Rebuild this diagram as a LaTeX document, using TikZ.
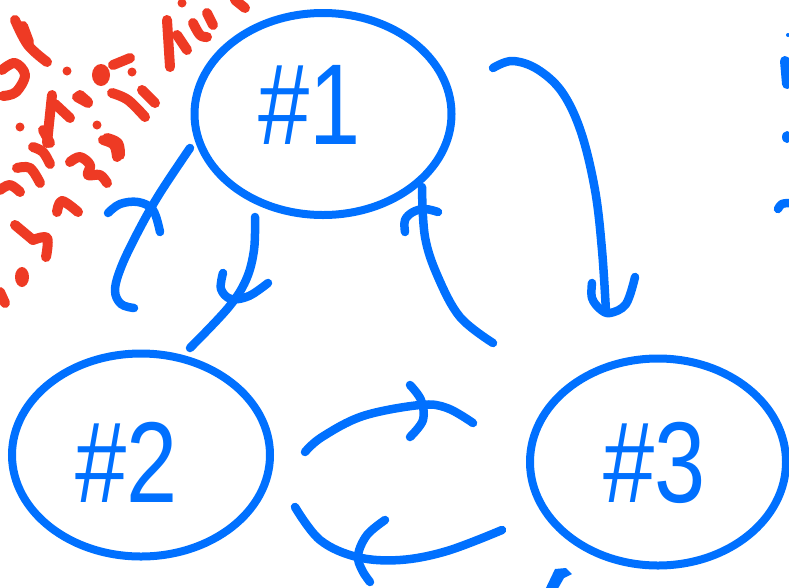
\documentclass[tikz,border=0pt]{standalone}
\usepackage{fontspec}
\setmainfont{Liberation Sans}
\usetikzlibrary{shapes.geometric}
\definecolor{inkblue}{RGB}{0,112,255}
\definecolor{inkred}{RGB}{238,58,36}
\tikzset{
  stroke/.style={draw=inkblue, line width=8.5pt, line cap=round, line join=round},
  redstroke/.style={draw=inkred, line width=10pt, line cap=round, line join=round},
  bubble/.style={draw=inkblue, line width=8pt, ellipse, inner sep=0pt},
  tag/.style={text=inkblue, font=\fontsize{92}{92}\selectfont, inner sep=0pt, yscale=1.25, transform shape},
  hand/.style={smooth, tension=0.6},
}
\begin{document}
\begin{tikzpicture}[x=1pt, y=-1pt]
\useasboundingbox (0,0) rectangle (789,587);

% the three states
\node[bubble, minimum width=257pt, minimum height=202pt] (n1) at (323,114) {};
\node[bubble, minimum width=258pt, minimum height=203pt] (n2) at (141,455) {};
\node[bubble, minimum width=256pt, minimum height=207pt] (n3) at (658,462) {};
\node[tag] (t1) at (310,105) {\#1};
\node[tag] (t2) at (127,462) {\#2};
\node[tag] (t3) at (655,463) {\#3};

% free ends of the hand-drawn arrows
\coordinate (a1s) at (190,148);
\coordinate (a2s) at (255,217);
\coordinate (a2e) at (190,348);
\coordinate (a3s) at (493,68);
\coordinate (a3e) at (606,312);
\coordinate (a4s) at (493,343);
\coordinate (a4e) at (422,187);
\coordinate (a5s) at (305,452);
\coordinate (a5e) at (473,423);
\coordinate (a6s) at (502,530);
\coordinate (a6e) at (295,507);

% #2 -> #1 (left)
\draw[stroke] plot[hand] coordinates {(a1s) (160,193) (140,228) (122,265) (115,290) (121,304) (134,308)};
\draw[stroke] plot[hand] coordinates {(108,213) (120,204) (138,202) (153,210) (160,232)};

% #1 -> #2
\draw[stroke] plot[hand] coordinates {(a2s) (254,250) (246,280) (228,308) (a2e)};
\draw[stroke] plot[hand] coordinates {(223,273) (221,289) (231,299) (249,296) (268,283)};

% #1 -> #3
\draw[stroke] plot[hand] coordinates {(a3s) (512,61) (537,69) (562,92) (581,132) (595,190) (602,250) (a3e)};
\draw[stroke] plot[hand] coordinates {(592,283) (592,298) (600,309) (610,313) (626,304) (635,277)};

% #3 -> #1
\draw[stroke] plot[hand] coordinates {(a4s) (460,317) (438,277) (425,237) (a4e)};
\draw[stroke] plot[hand] coordinates {(405,232) (405,220) (413,212) (425,209) (438,212)};

% #2 -> #3 (upper)
\draw[stroke] plot[hand] coordinates {(a5s) (322,437) (363,416) (420,405) (447,408) (a5e)};
\draw[stroke] plot[hand] coordinates {(410,385) (421,400) (423,420) (410,437)};

% #3 -> #2 (lower)
\draw[stroke] plot[hand] coordinates {(a6s) (447,551) (400,560) (357,557) (320,540) (a6e)};
\draw[stroke] plot[hand] coordinates {(385,520) (367,535) (358,555) (362,570) (370,582)};

% partly visible tip at the bottom
\fill[inkblue] (544,592) -- (555,569) -- (566,568) -- (572,574) -- (564,578) -- (556,592) -- cycle;

% marks on the right edge
\fill[inkblue] (788,35) circle (2pt);
\draw[stroke, line width=10pt] (785,61) -- (787,84);
\fill[inkblue] (787,137) ellipse (5pt and 6pt);
\draw[stroke] plot[hand] coordinates {(778,209) (782,204) (790,203)};

% red handwriting in the top-left corner
\draw[redstroke] plot[hand] coordinates {(15,20) (28,45) (47,62)};
\draw[redstroke] (23,26) -- (29,42);
\draw[redstroke] plot[hand] coordinates {(2,70) (15,63) (25,75) (16,92) (3,96)};
\fill[inkred] (67,71) circle (4.5pt);
\draw[redstroke] (52,95) -- (47,143);
\draw[redstroke] (55,104) -- (70,118);
\draw[redstroke] (77,97) -- (88,103);
\fill[inkred] (20,127) circle (4.5pt);
\draw[redstroke] (43,130) -- (50,143);
\draw[redstroke] plot[hand] coordinates {(33,147) (43,152) (50,164)};
\draw[redstroke] plot[hand] coordinates {(17,168) (30,168) (40,183)};
\draw[redstroke] plot[hand] coordinates {(0,190) (10,185) (20,192)};
\draw[redstroke] plot[hand] coordinates {(70,162) (80,157) (90,165) (88,175) (100,175) (107,183)};
\draw[redstroke] plot[hand] coordinates {(103,140) (114,145) (117,157)};
\draw[redstroke] plot[hand] coordinates {(57,212) (62,201) (78,212)};
\draw[redstroke] (15,225) -- (33,240);
\draw[redstroke] plot[hand] coordinates {(33,240) (47,238) (46,257)};
\fill[inkred] (22,277) ellipse (7pt and 10pt);
\draw[redstroke] (0,292) -- (5,303);
\fill[inkred] (101,75) ellipse (9pt and 11pt);
\draw[redstroke] (113,65) -- (130,58);
\fill[inkred] (132,72) circle (4.5pt);
\draw[redstroke] plot[hand] coordinates {(112,93) (128,100) (145,117)};
\draw[redstroke] (142,90) -- (155,103);
\fill[inkred] (97,125) circle (4.5pt);
\draw[redstroke] plot[hand] coordinates {(107,138) (118,143) (120,155)};
\draw[redstroke] (80,95) -- (88,102);
\draw[redstroke] (167,20) -- (170,67);
\draw[redstroke] (177,35) -- (187,50);
\fill[inkred] (182,3) circle (4.5pt);
\draw[redstroke] plot[hand] coordinates {(193,23) (200,35) (207,37)};
\draw[redstroke] (207,13) -- (213,25);
\draw[redstroke] (235,0) -- (245,8);
\end{tikzpicture}
\end{document}
